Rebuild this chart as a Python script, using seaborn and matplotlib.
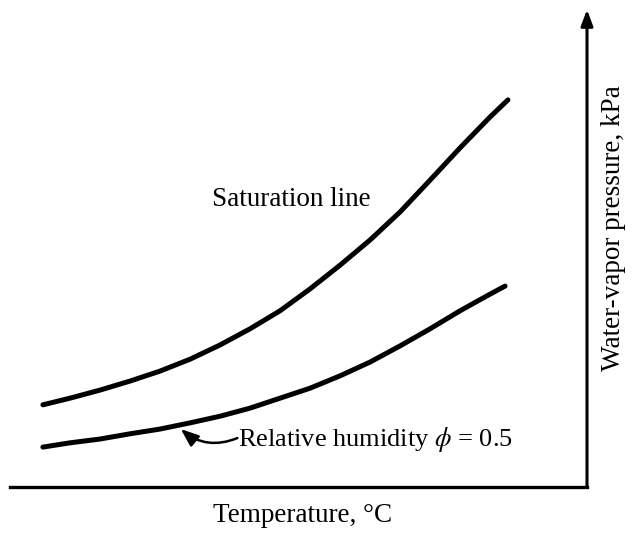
import numpy as np
import pandas as pd
import matplotlib
matplotlib.use("Agg")
import matplotlib.pyplot as plt
import seaborn as sns

# schematic values (arbitrary units, axes run 0-100)
temp_pts = [5.7, 10.4, 15.6, 20.8, 26.0, 31.2, 36.4, 41.6, 46.8, 52.0,
            57.2, 62.4, 67.6, 72.8, 78.0, 83.2]
sat_press = [17.3, 18.7, 20.4, 22.3, 24.4, 26.9, 29.9, 33.3, 37.1, 41.7,
             46.7, 52.0, 57.9, 64.6, 71.4, 77.9]
hum_press = [8.4, 9.3, 10.1, 11.2, 12.2, 13.5, 14.9, 16.6, 18.7, 20.8,
             23.4, 26.3, 29.7, 33.3, 37.1, 40.6]
sat_temp = temp_pts + [86.3]
sat_press = sat_press + [81.5]
hum_temp = temp_pts + [85.8]
hum_press = hum_press + [42.3]

df = pd.concat([
    pd.DataFrame({"temp": sat_temp, "press": sat_press, "curve": "sat"}),
    pd.DataFrame({"temp": hum_temp, "press": hum_press, "curve": "hum"}),
])

sns.set_theme(style="white")
plt.rcParams["font.family"] = ["Liberation Serif", "DejaVu Serif"]
plt.rcParams["mathtext.fontset"] = "stix"
plt.rcParams["text.color"] = "black"

fig = plt.figure(figsize=(6.35, 5.33), dpi=100)
ax = fig.add_axes([10/635, 46/533, 577/635, 475/533])

sns.lineplot(data=df, x="temp", y="press", units="curve", estimator=None,
             color="black", linewidth=3.6, sort=False, ax=ax)
for l in ax.lines:
    l.set_solid_capstyle("round")
    l.set_solid_joinstyle("round")

ax.set_xlim(0, 100)
ax.set_ylim(0, 100)
ax.set_xticks([])
ax.set_yticks([])
ax.set_xlabel("")
ax.set_ylabel("")
for s in ["top", "left", "right"]:
    ax.spines[s].set_visible(False)
ax.spines["bottom"].set_linewidth(2.4)
ax.spines["bottom"].set_color("black")

# right axis with arrow
ax.annotate("", xy=(1.0, 1.005), xytext=(1.0, 0.0), xycoords="axes fraction",
            arrowprops=dict(arrowstyle="-|>,head_length=0.8,head_width=0.3",
                            color="black", lw=2.2, shrinkA=0, shrinkB=0),
            annotation_clip=False)

ax.text(35.0, 60.5, "Saturation line", fontsize=19.5, ha="left", va="center")
ax.text(39.6, 10.0, r"Relative humidity $\phi$ = 0.5", fontsize=19,
        ha="left", va="center")
ax.annotate("", xy=(29.6, 12.2), xytext=(39.4, 10.3),
            arrowprops=dict(arrowstyle="-|>,head_length=0.9,head_width=0.35",
                            color="black", lw=1.8, shrinkA=0, shrinkB=0,
                            connectionstyle="arc3,rad=-0.3"))

fig.text(303/635, 1 - 516/533, "Temperature, °C", fontsize=19.5, ha="center", va="center")
fig.text(613/635, 1 - 228/533, "Water-vapor pressure, kPa", fontsize=19.5,
         ha="center", va="center", rotation=90)

fig.savefig("out.png", dpi=100)
